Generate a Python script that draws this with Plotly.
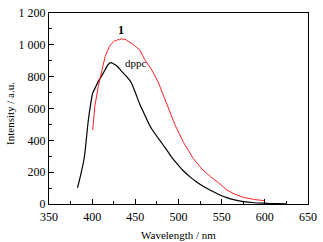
import plotly.graph_objects as go

# dppc (black)
dppc_x = [383, 387, 391, 395.6, 400.6, 404, 407, 411, 415, 418, 420, 422, 424, 428, 434, 440, 445, 450,
          455, 460, 467, 473, 479, 485, 492, 498, 505, 513, 521, 529, 537, 548, 556, 565, 575, 588, 600, 612, 625]
dppc_y = [102, 190, 297, 528, 696, 735, 769, 805, 843, 872, 885, 888, 883, 870, 835, 800, 765, 700,
          630, 570, 490, 440, 395, 350, 295, 255, 212, 172, 138, 110, 86, 57, 40, 26, 15, 8, 5, 2, 1]

# compound 1 (red)
c1_x = [400.6, 403, 407, 411, 415, 418, 420, 423, 426, 428, 430, 432, 434, 436, 438, 440, 442, 444, 447,
        450, 455, 461, 469, 477, 482, 486, 496, 506, 517, 527, 537, 548, 556, 565, 575, 588, 600]
c1_y = [465, 610, 738, 843, 926, 965, 990, 1010, 1027, 1025, 1035, 1030, 1042, 1032, 1036, 1028, 1022, 1015, 1005,
        990, 969, 906, 843, 759, 690, 630, 496, 385, 287, 220, 172, 126, 88, 62, 42, 28, 21]

x_ticks = [350, 400, 450, 500, 550, 600, 650]
y_ticks = [0, 200, 400, 600, 800, 1000, 1200]
y_tick_text = ["0", "200", "400", "600", "800", "1 000", "1 200"]

font = "Liberation Serif, Times New Roman, serif"

fig = go.Figure()
fig.add_trace(go.Scatter(x=dppc_x, y=dppc_y, mode="lines",
                         line=dict(color="black", width=1.2, shape="spline", smoothing=0.6),
                         showlegend=False))
fig.add_trace(go.Scatter(x=c1_x, y=c1_y, mode="lines",
                         line=dict(color="#ff2020", width=1, shape="linear"),
                         showlegend=False))

fig.add_annotation(x=433, y=1095, text="<b>1</b>", showarrow=False,
                   font=dict(family=font, size=12, color="black"))
fig.add_annotation(x=451, y=886, text="dppc", showarrow=False,
                   font=dict(family=font, size=11, color="black"))

# axis titles placed in paper coordinates
fig.add_annotation(xref="paper", yref="paper", x=0.5, y=-0.12, yanchor="top",
                   text="Wavelength / nm", showarrow=False,
                   font=dict(family=font, size=11, color="black"))
fig.add_annotation(xref="paper", yref="paper", x=-0.148, y=0.475, xanchor="center",
                   text="Intensity / a.u.", showarrow=False, textangle=-90,
                   font=dict(family=font, size=11, color="black"))

fig.update_xaxes(range=[350, 650], tickvals=x_ticks, ticks="inside", ticklen=5,
                 tickcolor="black", linecolor="black", linewidth=1, mirror=True,
                 showline=True, showgrid=False, zeroline=False, automargin=False,
                 ticklabelstandoff=2,
                 minor=dict(dtick=25, tick0=350, ticks="inside", ticklen=3, tickcolor="black"),
                 tickfont=dict(family=font, size=12, color="black"))
fig.update_yaxes(range=[0, 1200], tickvals=y_ticks, ticktext=y_tick_text, ticks="inside", ticklen=5,
                 tickcolor="black", linecolor="black", linewidth=1, mirror=True,
                 showline=True, showgrid=False, zeroline=False, automargin=False,
                 minor=dict(dtick=100, tick0=0, ticks="inside", ticklen=3, tickcolor="black"),
                 tickfont=dict(family=font, size=12, color="black"))

fig.update_layout(width=323, height=242, margin=dict(l=49, r=15, t=13, b=38),
                  plot_bgcolor="white", paper_bgcolor="white")

fig.write_html("out.html", config={"displayModeBar": False},
               post_script="document.body.style.margin='0';document.body.style.padding='0';")
